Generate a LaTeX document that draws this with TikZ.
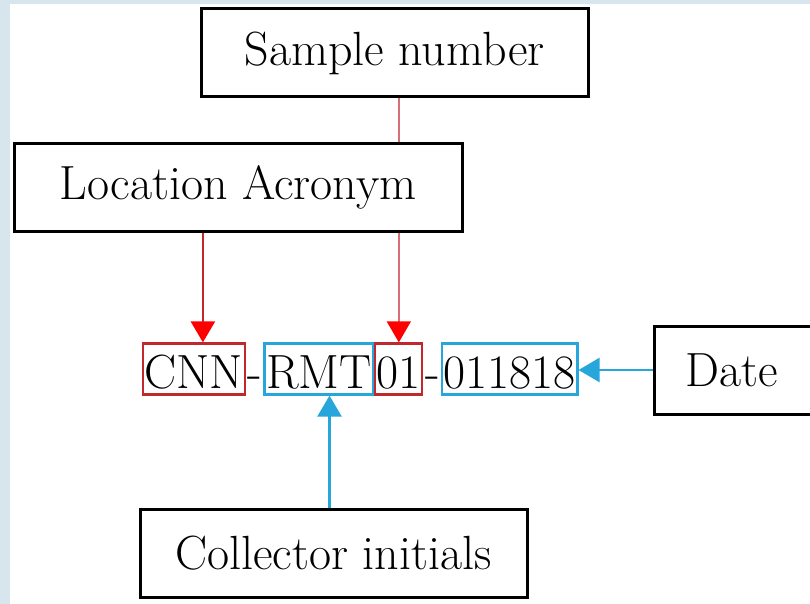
\documentclass[tikz,border=0pt]{standalone}
\usetikzlibrary{positioning,arrows.meta}
\definecolor{bgblue}{RGB}{214,230,236}
\definecolor{boxred}{RGB}{192,40,45}
\definecolor{linkblue}{RGB}{38,166,219}
\definecolor{thinred}{RGB}{214,110,115}

\tikzset{
  lbl/.style={draw,line width=3pt,fill=white,minimum height=88pt,inner sep=0pt},
  part/.style={line width=2.2pt,inner xsep=1.5pt,inner ysep=1pt,text height=44pt,text depth=5pt},
  redpart/.style={part,draw=boxred},
  bluepart/.style={part,draw=linkblue},
  hyph/.style={part,inner xsep=0.5pt},
  redtip/.style={-{Triangle[width=24pt,length=21pt,color=red]}},
  bluetip/.style={-{Triangle[width=24pt,length=21pt]}}
}

\begin{document}
\begin{tikzpicture}[x=1pt,y=-1pt,font=\fontsize{48}{58}\selectfont]
\useasboundingbox (0,0) rectangle (810,604);
\fill[bgblue] (0,0) rectangle (810,604);
\fill[white] (10,4) rectangle (810,604);
\begin{scope}
\clip (0,0) rectangle (810,604);
% code row
\node[redpart,anchor=west] (cnn) at (142,369) {CNN};
\node[hyph,right=0pt of cnn] (h1) {-};
\node[bluepart,right=0pt of h1] (rmt) {RMT};
\node[redpart,right=0pt of rmt] (num) {01};
\node[hyph,right=0pt of num] (h2) {-};
\node[bluepart,right=0pt of h2] (yr) {011818};
% labels and arrows
\node[lbl,minimum width=387pt] (samp) at (394.5,53) {Sample number};
\draw[thinred,line width=1.4pt,redtip] (samp.south -| num.north) -- (num.north);
\node[lbl,minimum width=448pt] (loc) at (238,187.5) {Location Acronym};
\coordinate (cnntop) at ([xshift=9pt]cnn.north);
\draw[boxred,line width=2.5pt,redtip] (loc.south -| cnntop) -- (cnntop);
\node[lbl,anchor=west,text width=118pt,inner xsep=31pt,align=left] (date) at (653,370) {Date};
\draw[linkblue,line width=2.5pt,bluetip] (date.west) -- (date.west -| yr.east);
\node[lbl,minimum width=387pt] (coll) at (333.5,553.5) {Collector initials};
\coordinate (collup) at ([xshift=-4pt]coll.north);
\draw[linkblue,line width=2.5pt,bluetip] (collup) -- (collup |- rmt.south);
\end{scope}
\end{tikzpicture}
\end{document}
